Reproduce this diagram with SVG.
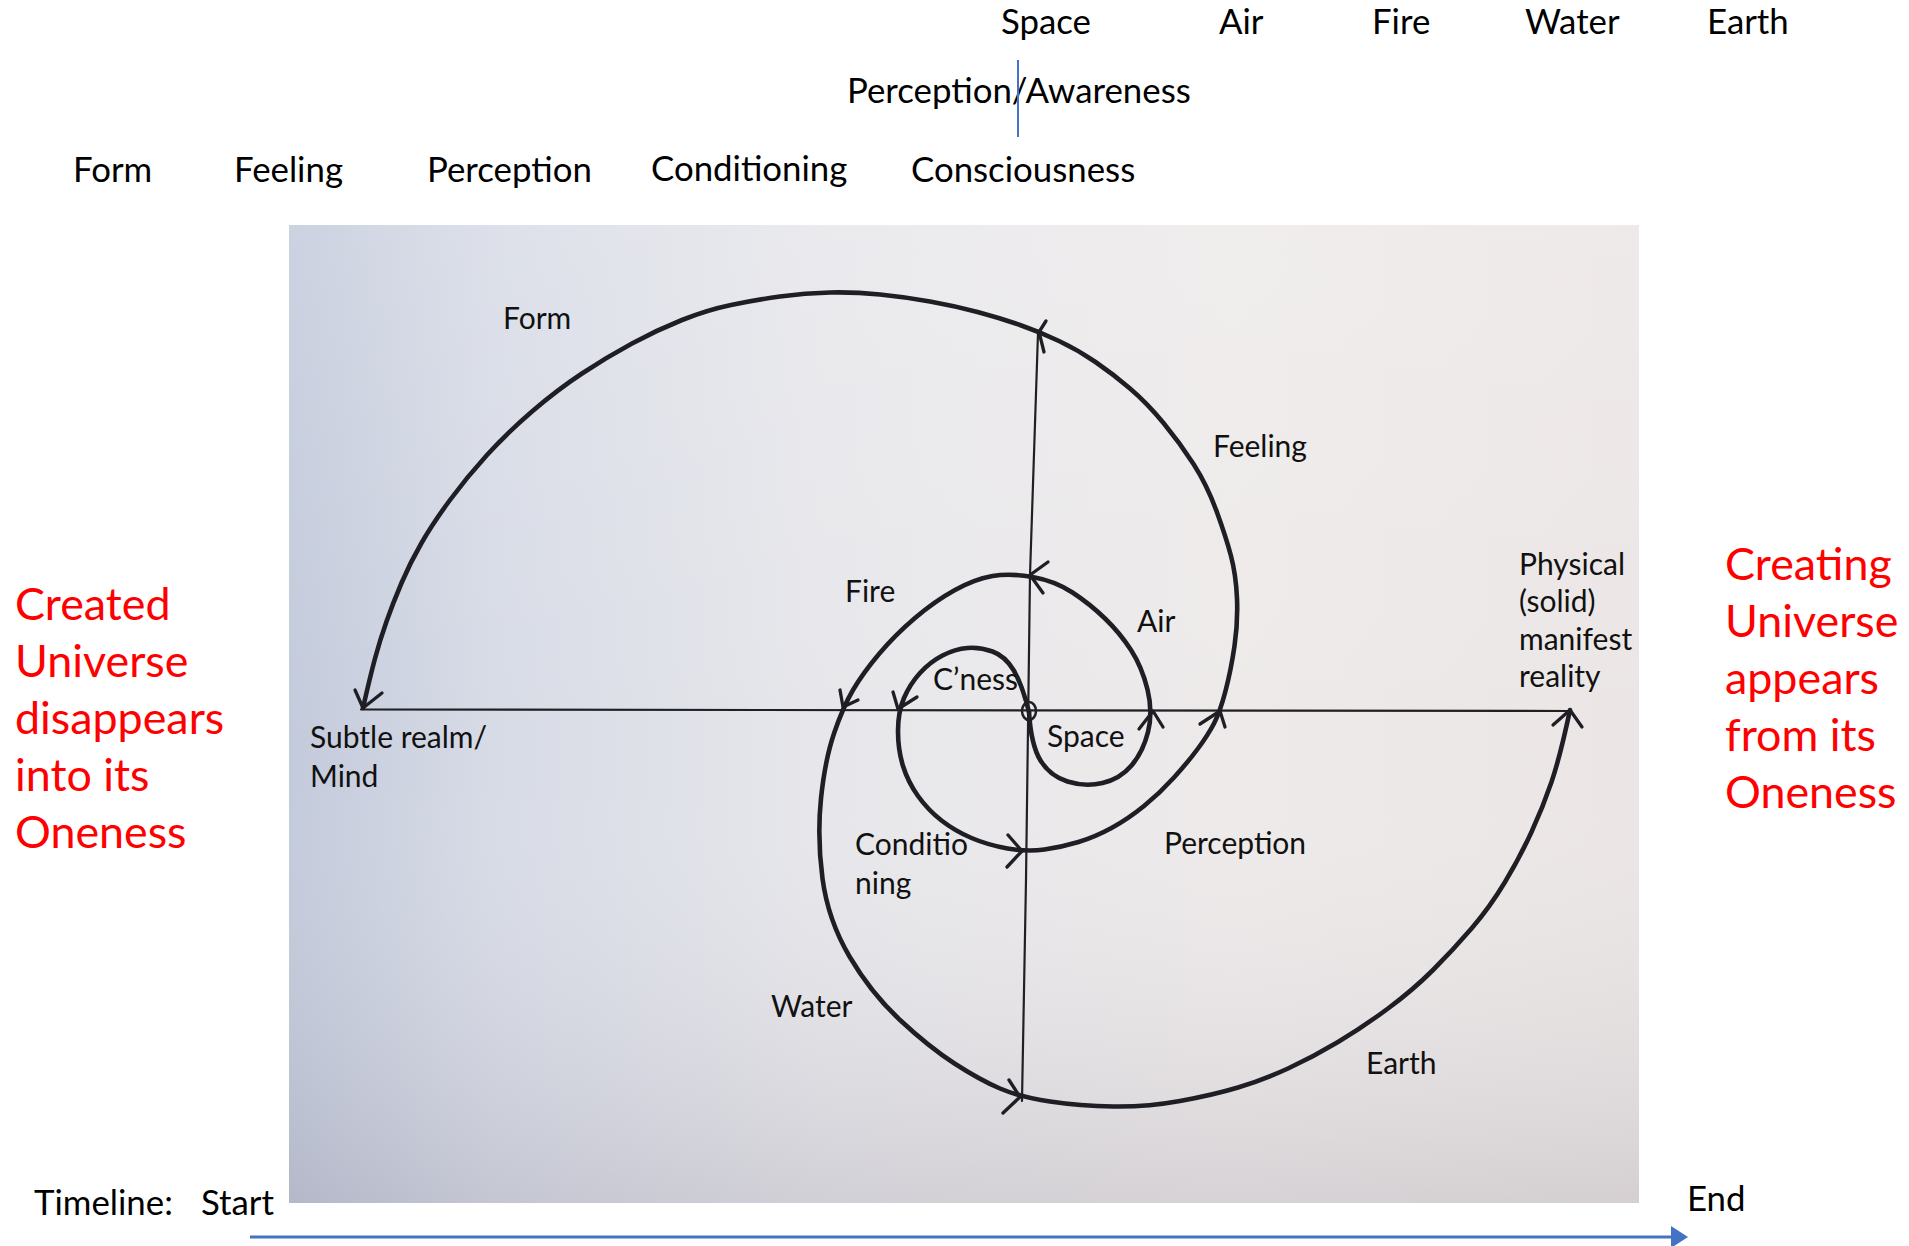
<svg xmlns="http://www.w3.org/2000/svg" width="1909" height="1246" viewBox="0 0 1909 1246">
<defs>
<linearGradient id="photoH" x1="0" y1="0" x2="1" y2="0">
<stop offset="0" stop-color="#c3cadb"/>
<stop offset="0.15" stop-color="#d7dbe6"/>
<stop offset="0.4" stop-color="#e7e7eb"/>
<stop offset="0.7" stop-color="#eeeaea"/>
<stop offset="1" stop-color="#ebe6e5"/>
</linearGradient>
<linearGradient id="photoV" x1="0" y1="0" x2="0" y2="1">
<stop offset="0" stop-color="#ffffff" stop-opacity="0.15"/>
<stop offset="0.55" stop-color="#ffffff" stop-opacity="0"/>
<stop offset="1" stop-color="#6e6678" stop-opacity="0.18"/>
</linearGradient>
<style>
.t{font-family:Lato,"Open Sans","Liberation Sans",sans-serif;fill:#000}
.top{font-size:34.8px}
.lbl{font-size:30px;fill:#111}
.red{font-family:Lato,"Open Sans","Liberation Sans",sans-serif;font-size:44.8px;fill:#ff0000}
.sp{fill:none;stroke:#1f1e24;stroke-width:4.6;stroke-linecap:round;stroke-linejoin:round}
.ax{fill:none;stroke:#202024;stroke-width:2.2;stroke-linecap:round}
.ah{fill:none;stroke:#1f1e24;stroke-width:3.3;stroke-linecap:round;stroke-linejoin:round}
.blue{stroke:#4472c4;fill:none}
</style>
</defs>
<rect width="1909" height="1246" fill="#ffffff"/>

<g id="photo">
<rect x="289" y="225" width="1350" height="978" fill="url(#photoH)"/>
<rect x="289" y="225" width="1350" height="978" fill="url(#photoV)"/>
</g>

<g id="header-elements">
<text class="t top" x="1001" y="34">Space</text>
<text class="t top" x="1219" y="34">Air</text>
<text class="t top" x="1372" y="34">Fire</text>
<text class="t top" x="1525" y="34">Water</text>
<text class="t top" x="1707" y="34">Earth</text>
</g>
<g id="header-awareness">
<text class="t top" x="847" y="103">Perception/Awareness</text>
<line class="blue" x1="1018" y1="60" x2="1018" y2="137" stroke-width="2"/>
</g>
<g id="header-skandhas">
<text class="t top" x="73" y="182">Form</text>
<text class="t top" x="234" y="182">Feeling</text>
<text class="t top" x="427" y="182">Perception</text>
<text class="t top" x="651" y="181">Conditioning</text>
<text class="t top" x="911" y="182">Consciousness</text>
</g>

<g id="note-left">
<text class="red" x="15" y="620">Created</text>
<text class="red" x="15" y="677">Universe</text>
<text class="red" x="15" y="734">disappears</text>
<text class="red" x="15" y="791">into its</text>
<text class="red" x="15" y="848">Oneness</text>
</g>
<g id="note-right">
<text class="red" x="1725" y="580">Creating</text>
<text class="red" x="1725" y="637">Universe</text>
<text class="red" x="1725" y="694">appears</text>
<text class="red" x="1725" y="751">from its</text>
<text class="red" x="1725" y="808">Oneness</text>
</g>

<g id="connectors">
<path class="ax" d="M361 709.5 L1570 711"/>
<path class="ax" d="M1038 333 L1030 575 L1026 880 L1022 1101"/>
<ellipse cx="1029" cy="711" rx="7" ry="9" fill="none" stroke="#202024" stroke-width="2.5"/>
<path id="element-spiral" class="sp" d="M1029 712 Q1031 745 1040.5 760.5 Q1050 776 1067.5 781.5 Q1085 787 1102.5 783 Q1120 779 1131.5 765.5 Q1143 752 1148 732 Q1153 712 1147.5 689.5 Q1142 667 1131 650 Q1120 633 1105 618.5 Q1090 604 1072.5 592.5 Q1055 581 1032.5 577 Q1010 573 992.5 576 Q975 579 955 590 Q935 601 915 618 Q895 635 879 654 Q863 673 853 690 Q843 707 834 733.5 Q825 760 821 798.5 Q817 837 822.5 878.5 Q828 920 849.5 956.5 Q871 993 900 1020 Q929 1047 954.5 1063.5 Q980 1080 1000 1088.5 Q1020 1097 1050 1101.5 Q1080 1106 1113.5 1106.5 Q1147 1107 1180 1101 Q1213 1095 1238 1087.5 Q1263 1080 1288 1068.5 Q1313 1057 1338 1042 Q1363 1027 1388 1008.5 Q1413 990 1433 970 Q1453 950 1471.5 928.5 Q1490 907 1505 882 Q1520 857 1531.5 832 Q1543 807 1551.5 782 Q1560 757 1570 710"/>
<path id="skandha-spiral" class="sp" d="M1029 712 Q1022 684 1013.5 670 Q1005 656 992.5 651.5 Q980 647 967.5 648 Q955 649 942.5 655.5 Q930 662 920 673 Q910 684 904 698 Q898 712 898 731 Q898 750 903 766 Q908 782 918 796 Q928 810 941.5 820.5 Q955 831 971.5 838 Q988 845 1007.5 848.5 Q1027 852 1044.5 849.5 Q1062 847 1078.5 842 Q1095 837 1111.5 828 Q1128 819 1144 806 Q1160 793 1174 777.5 Q1188 762 1198 748.5 Q1208 735 1214 723.5 Q1220 712 1225.5 691 Q1231 670 1234.5 646 Q1238 622 1237 598.5 Q1236 575 1231 556 Q1226 537 1216.5 511 Q1207 485 1193.5 464 Q1180 443 1163.5 423 Q1147 403 1130 388.5 Q1113 374 1095.5 362 Q1078 350 1059 341 Q1040 332 1020 325 Q1000 318 977.5 312 Q955 306 930 301.5 Q905 297 880 294.5 Q855 292 830 292.5 Q805 293 780 296.5 Q755 300 731 305 Q707 310 682 320 Q657 330 632 343.5 Q607 357 582 373.5 Q557 390 532 411.5 Q507 433 487 455 Q467 477 450 500 Q433 523 421.5 543 Q410 563 401.5 583 Q393 603 386.5 621.5 Q380 640 375 658.5 Q370 677 363 708"/>
<g id="arrowheads">
<polyline class="ah" points="1139,729 1153,711 1163,727"/>
<polyline class="ah" points="1048,562 1030,575 1043,593"/>
<polyline class="ah" points="840,690 843,707 858,700"/>
<polyline class="ah" points="1009,1080 1020,1097 1003,1113"/>
<polyline class="ah" points="1553,725 1570,710 1582,727"/>
<polyline class="ah" points="893,692 898,709 917,697"/>
<polyline class="ah" points="1008,835 1022,851 1007,867"/>
<polyline class="ah" points="1200,724 1220,711 1225,727"/>
<polyline class="ah" points="1046,321 1039,332 1044,352"/>
<polyline class="ah" points="355,690 363,708 382,693"/>
</g>
</g>

<g id="node-form"><text class="t lbl" x="503" y="329">Form</text></g>
<g id="node-feeling"><text class="t lbl" x="1213" y="457">Feeling</text></g>
<g id="node-fire"><text class="t lbl" x="845" y="602">Fire</text></g>
<g id="node-air"><text class="t lbl" x="1137" y="632">Air</text></g>
<g id="node-cness"><text class="t lbl" x="933" y="690">C’ness</text></g>
<g id="node-space"><text class="t lbl" x="1047" y="747">Space</text></g>
<g id="node-subtle"><text class="t lbl" x="310" y="748">Subtle realm/</text><text class="t lbl" x="310" y="787">Mind</text></g>
<g id="node-conditioning"><text class="t lbl" x="855" y="855">Conditio</text><text class="t lbl" x="855" y="894">ning</text></g>
<g id="node-perception"><text class="t lbl" x="1164" y="854">Perception</text></g>
<g id="node-physical"><text class="t lbl" x="1519" y="575">Physical</text><text class="t lbl" x="1519" y="612">(solid)</text><text class="t lbl" x="1519" y="650">manifest</text><text class="t lbl" x="1519" y="687">reality</text></g>
<g id="node-water"><text class="t lbl" x="771" y="1017">Water</text></g>
<g id="node-earth"><text class="t lbl" x="1366" y="1074">Earth</text></g>

<g id="timeline">
<text class="t top" x="34" y="1215">Timeline:</text>
<text class="t top" x="201" y="1215">Start</text>
<text class="t top" x="1687" y="1211">End</text>
<line class="blue" x1="250" y1="1237" x2="1673" y2="1237" stroke-width="3"/>
<polygon points="1671,1226 1688,1237 1671,1248" fill="#4472c4"/>
</g>
</svg>
